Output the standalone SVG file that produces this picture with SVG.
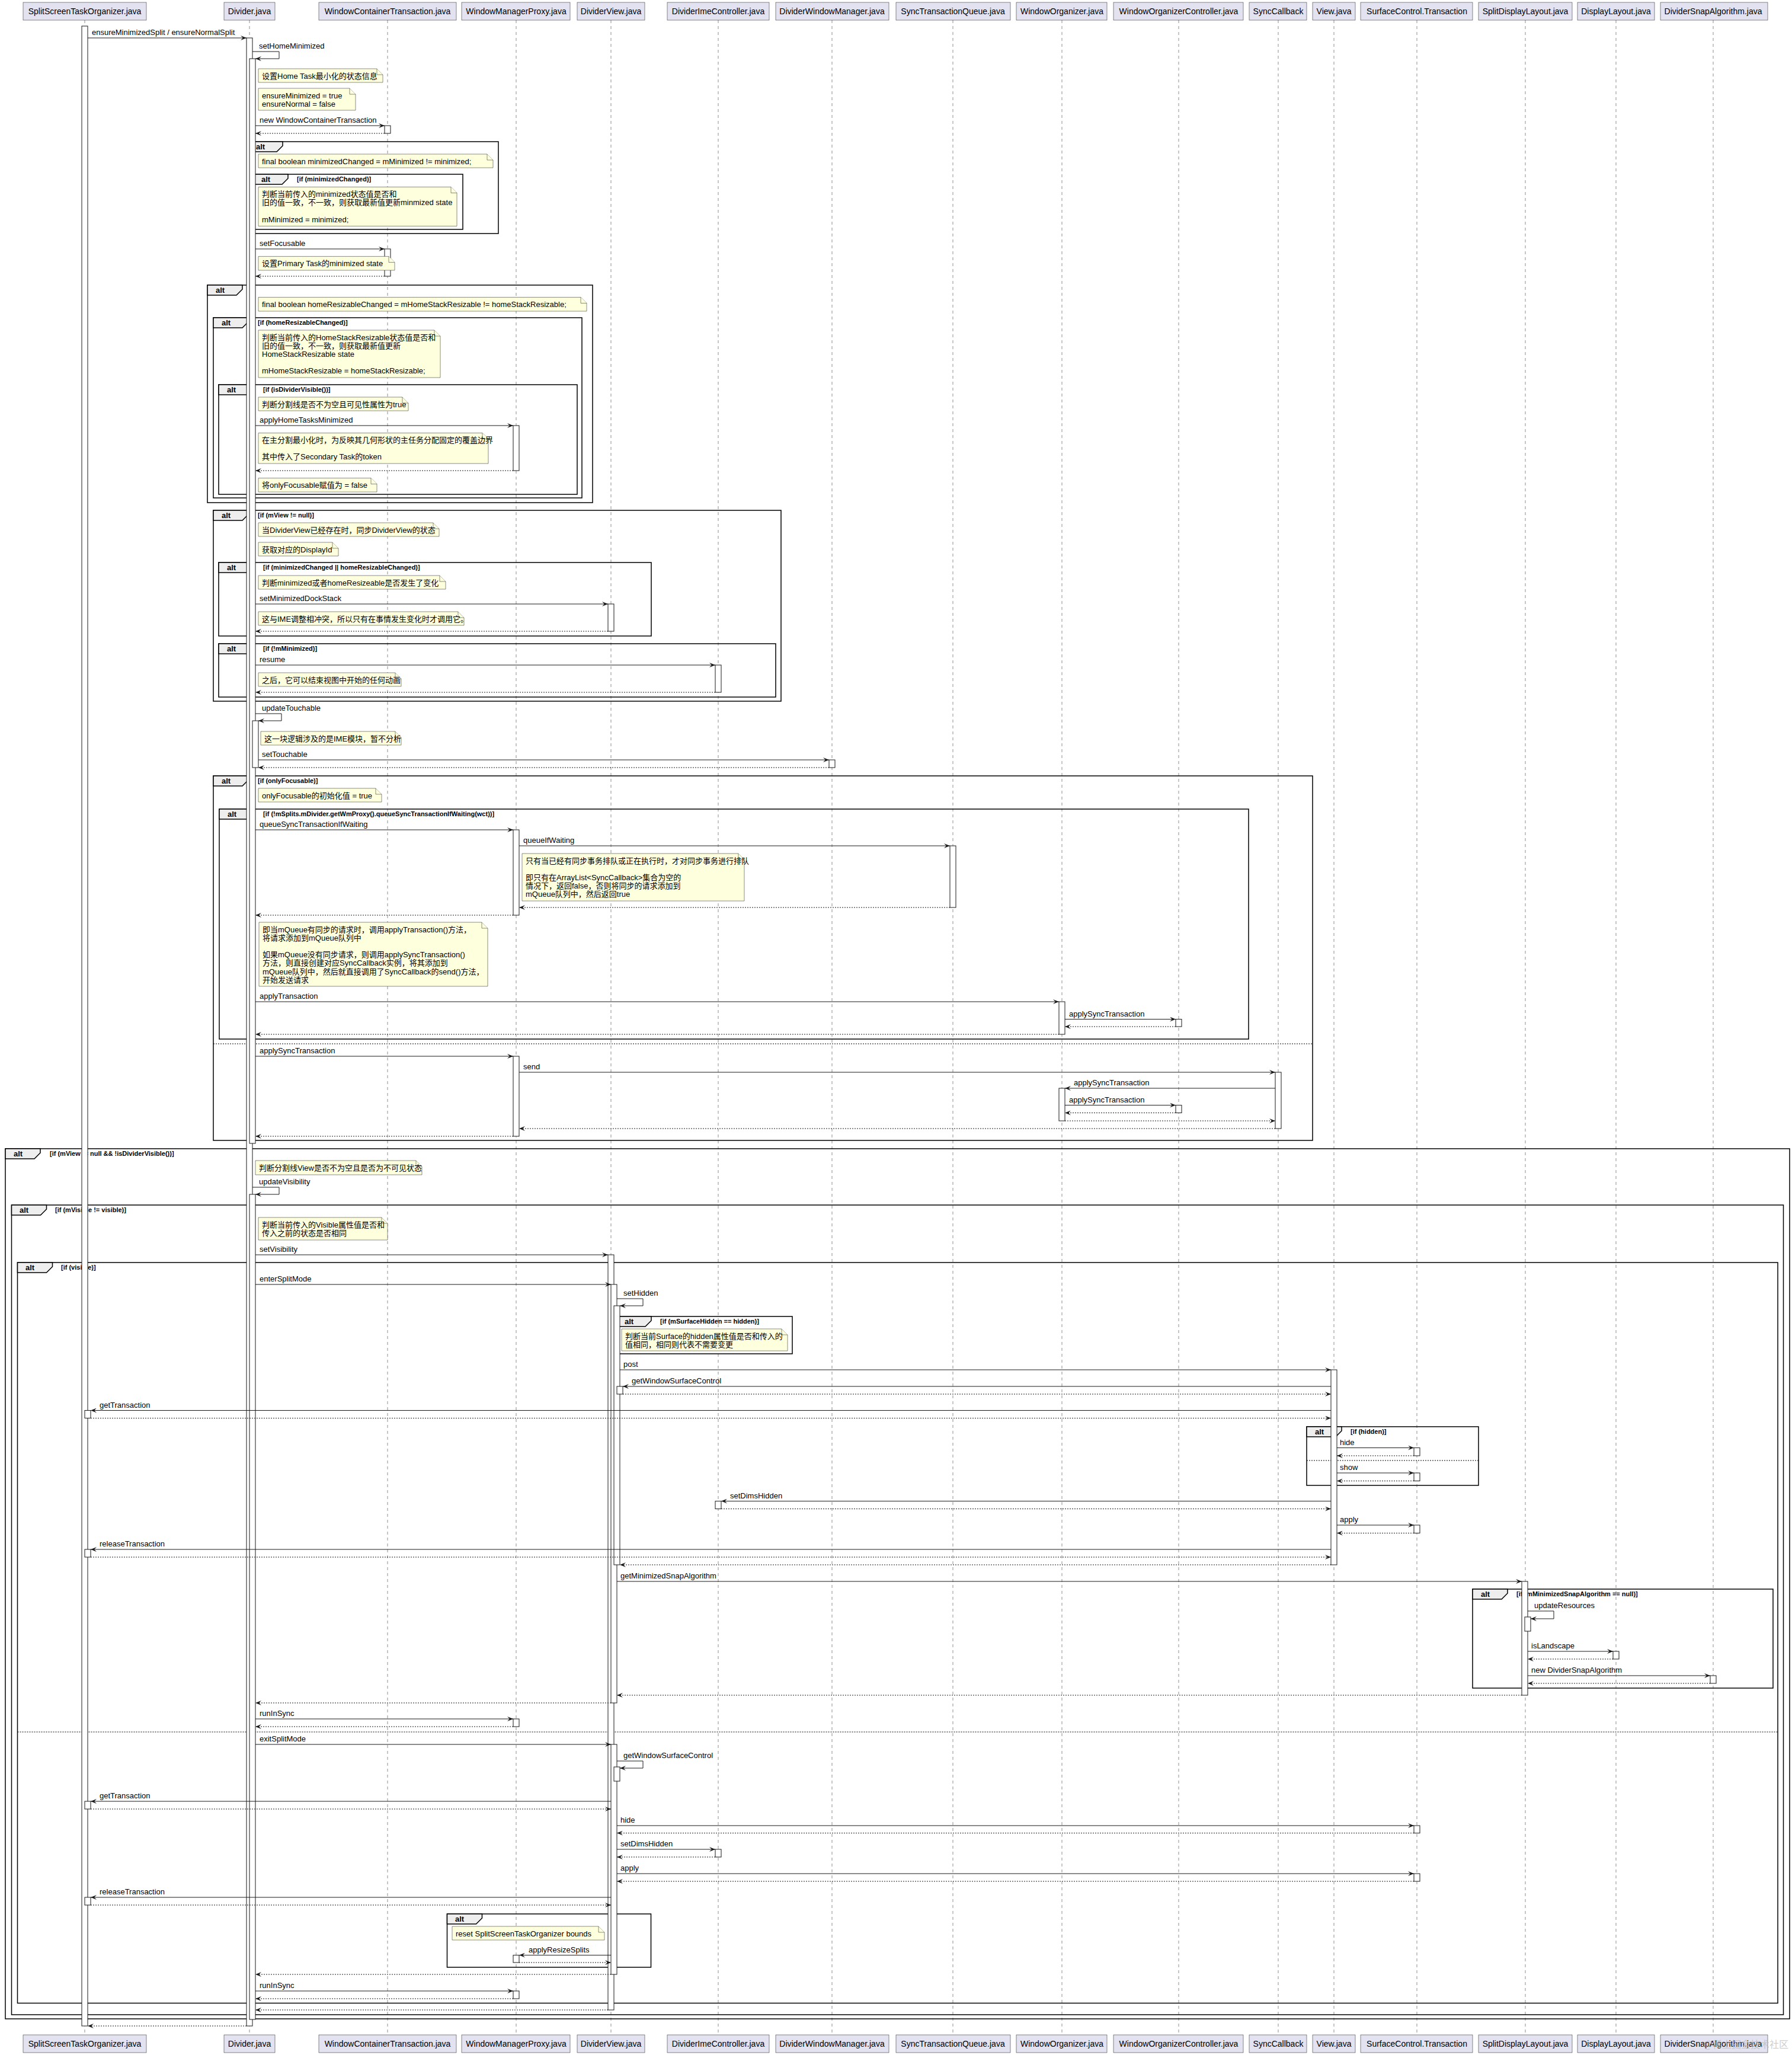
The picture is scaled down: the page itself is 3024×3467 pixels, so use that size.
<svg xmlns="http://www.w3.org/2000/svg" width="3024" height="3467" viewBox="0 0 3024 3467">
<style>
.pb{fill:#E2E2F0;stroke:#181818;stroke-width:0.5}
.pt{font-family:"Liberation Sans",sans-serif;font-size:14px;fill:#000;text-anchor:middle}
.ll{stroke:#181818;stroke-width:0.5;stroke-dasharray:5,5;fill:none}
.ac{fill:#fff;stroke:#181818;stroke-width:1}
.fr{fill:none;stroke:#000;stroke-width:1.5}
.tab{fill:#EEEEEE;stroke:#000;stroke-width:1.5}
.tl{font-family:"Liberation Sans",sans-serif;font-size:13px;font-weight:bold;fill:#000}
.gd{font-family:"Liberation Sans",sans-serif;font-size:11px;font-weight:bold;fill:#000}
.el{stroke:#000;stroke-width:1;stroke-dasharray:2,2;fill:none}
.nb{fill:#FEFFDD;stroke:#181818;stroke-width:0.5}
.nt{font-family:"Liberation Sans","Noto Sans CJK SC",sans-serif;font-size:13px;fill:#000}
.m{stroke:#181818;stroke-width:1;fill:none;marker-end:url(#ah)}
.r{stroke:#181818;stroke-width:1;fill:none;stroke-dasharray:2,2;marker-end:url(#ah)}
.ml{font-family:"Liberation Sans",sans-serif;font-size:13px;fill:#000}
.wm{font-family:"Noto Sans CJK SC",sans-serif;font-size:16px;fill:#bbbbbb;opacity:0.7;text-anchor:end}
</style>
<defs>
<marker id="ah" markerWidth="10" markerHeight="8" refX="10" refY="4" orient="auto" markerUnits="userSpaceOnUse"><path d="M0,0 L10,4 L0,8 L4,4 Z" fill="#181818"/></marker>
</defs>
<rect x="0" y="0" width="3024" height="3467" fill="#ffffff"/>

<!-- participants -->
<g id="p-ssto"><line class="ll" x1="143" y1="34" x2="143" y2="3433"/><rect class="pb" x="39" y="4" width="208" height="30"/><text class="pt" x="143" y="24">SplitScreenTaskOrganizer.java</text><rect class="pb" x="39" y="3433" width="208" height="30"/><text class="pt" x="143" y="3453">SplitScreenTaskOrganizer.java</text></g>
<g id="p-divider"><line class="ll" x1="421" y1="34" x2="421" y2="3433"/><rect class="pb" x="378" y="4" width="86" height="30"/><text class="pt" x="421" y="24">Divider.java</text><rect class="pb" x="378" y="3433" width="86" height="30"/><text class="pt" x="421" y="3453">Divider.java</text></g>
<g id="p-wct"><line class="ll" x1="654" y1="34" x2="654" y2="3433"/><rect class="pb" x="538" y="4" width="232" height="30"/><text class="pt" x="654" y="24">WindowContainerTransaction.java</text><rect class="pb" x="538" y="3433" width="232" height="30"/><text class="pt" x="654" y="3453">WindowContainerTransaction.java</text></g>
<g id="p-wmp"><line class="ll" x1="871" y1="34" x2="871" y2="3433"/><rect class="pb" x="779" y="4" width="183" height="30"/><text class="pt" x="871" y="24">WindowManagerProxy.java</text><rect class="pb" x="779" y="3433" width="183" height="30"/><text class="pt" x="871" y="3453">WindowManagerProxy.java</text></g>
<g id="p-dividerview"><line class="ll" x1="1031" y1="34" x2="1031" y2="3433"/><rect class="pb" x="974" y="4" width="114" height="30"/><text class="pt" x="1031" y="24">DividerView.java</text><rect class="pb" x="974" y="3433" width="114" height="30"/><text class="pt" x="1031" y="3453">DividerView.java</text></g>
<g id="p-dic"><line class="ll" x1="1212" y1="34" x2="1212" y2="3433"/><rect class="pb" x="1126" y="4" width="172" height="30"/><text class="pt" x="1212" y="24">DividerImeController.java</text><rect class="pb" x="1126" y="3433" width="172" height="30"/><text class="pt" x="1212" y="3453">DividerImeController.java</text></g>
<g id="p-dwm"><line class="ll" x1="1404" y1="34" x2="1404" y2="3433"/><rect class="pb" x="1309" y="4" width="191" height="30"/><text class="pt" x="1404" y="24">DividerWindowManager.java</text><rect class="pb" x="1309" y="3433" width="191" height="30"/><text class="pt" x="1404" y="3453">DividerWindowManager.java</text></g>
<g id="p-stq"><line class="ll" x1="1608" y1="34" x2="1608" y2="3433"/><rect class="pb" x="1512" y="4" width="193" height="30"/><text class="pt" x="1608" y="24">SyncTransactionQueue.java</text><rect class="pb" x="1512" y="3433" width="193" height="30"/><text class="pt" x="1608" y="3453">SyncTransactionQueue.java</text></g>
<g id="p-wo"><line class="ll" x1="1792" y1="34" x2="1792" y2="3433"/><rect class="pb" x="1715" y="4" width="153" height="30"/><text class="pt" x="1792" y="24">WindowOrganizer.java</text><rect class="pb" x="1715" y="3433" width="153" height="30"/><text class="pt" x="1792" y="3453">WindowOrganizer.java</text></g>
<g id="p-woc"><line class="ll" x1="1989" y1="34" x2="1989" y2="3433"/><rect class="pb" x="1879" y="4" width="219" height="30"/><text class="pt" x="1989" y="24">WindowOrganizerController.java</text><rect class="pb" x="1879" y="3433" width="219" height="30"/><text class="pt" x="1989" y="3453">WindowOrganizerController.java</text></g>
<g id="p-synccallback"><line class="ll" x1="2157" y1="34" x2="2157" y2="3433"/><rect class="pb" x="2108" y="4" width="97" height="30"/><text class="pt" x="2157" y="24">SyncCallback</text><rect class="pb" x="2108" y="3433" width="97" height="30"/><text class="pt" x="2157" y="3453">SyncCallback</text></g>
<g id="p-view"><line class="ll" x1="2251" y1="34" x2="2251" y2="3433"/><rect class="pb" x="2215" y="4" width="72" height="30"/><text class="pt" x="2251" y="24">View.java</text><rect class="pb" x="2215" y="3433" width="72" height="30"/><text class="pt" x="2251" y="3453">View.java</text></g>
<g id="p-sct"><line class="ll" x1="2391" y1="34" x2="2391" y2="3433"/><rect class="pb" x="2296" y="4" width="189" height="30"/><text class="pt" x="2391" y="24">SurfaceControl.Transaction</text><rect class="pb" x="2296" y="3433" width="189" height="30"/><text class="pt" x="2391" y="3453">SurfaceControl.Transaction</text></g>
<g id="p-sdl"><line class="ll" x1="2574" y1="34" x2="2574" y2="3433"/><rect class="pb" x="2495" y="4" width="158" height="30"/><text class="pt" x="2574" y="24">SplitDisplayLayout.java</text><rect class="pb" x="2495" y="3433" width="158" height="30"/><text class="pt" x="2574" y="3453">SplitDisplayLayout.java</text></g>
<g id="p-dl"><line class="ll" x1="2727" y1="34" x2="2727" y2="3433"/><rect class="pb" x="2662" y="4" width="130" height="30"/><text class="pt" x="2727" y="24">DisplayLayout.java</text><rect class="pb" x="2662" y="3433" width="130" height="30"/><text class="pt" x="2727" y="3453">DisplayLayout.java</text></g>
<g id="p-dsa"><line class="ll" x1="2891" y1="34" x2="2891" y2="3433"/><rect class="pb" x="2802" y="4" width="181" height="30"/><text class="pt" x="2891" y="24">DividerSnapAlgorithm.java</text><rect class="pb" x="2802" y="3433" width="181" height="30"/><text class="pt" x="2891" y="3453">DividerSnapAlgorithm.java</text></g>

<!-- frames -->
<g id="frames">
<g id="f1"><rect class="fr" x="418" y="239" width="423" height="155"/><path class="tab" d="M418,239 H477 V246 L467,256 H418 Z"/><text class="tl" x="432" y="252">alt</text></g>
<g id="f2"><rect class="fr" x="427" y="294" width="354" height="93"/><path class="tab" d="M427,294 H486 V301 L476,311 H427 Z"/><text class="tl" x="441" y="307">alt</text><text class="gd" x="501" y="306">[if (minimizedChanged)]</text></g>
<g id="f3"><rect class="fr" x="350" y="481" width="650" height="367"/><path class="tab" d="M350,481 H409 V488 L399,498 H350 Z"/><text class="tl" x="364" y="494">alt</text></g>
<g id="f4"><rect class="fr" x="360" y="536" width="622" height="304"/><path class="tab" d="M360,536 H419 V543 L409,553 H360 Z"/><text class="tl" x="374" y="549">alt</text><text class="gd" x="435" y="548">[if (homeResizableChanged)]</text></g>
<g id="f5"><rect class="fr" x="369" y="649" width="605" height="185"/><path class="tab" d="M369,649 H428 V656 L418,666 H369 Z"/><text class="tl" x="383" y="662">alt</text><text class="gd" x="444" y="661">[if (isDividerVisible())]</text></g>
<g id="f6"><rect class="fr" x="360" y="861" width="958" height="322"/><path class="tab" d="M360,861 H419 V868 L409,878 H360 Z"/><text class="tl" x="374" y="874">alt</text><text class="gd" x="435" y="873">[if (mView != null)]</text></g>
<g id="f7"><rect class="fr" x="369" y="949" width="730" height="124"/><path class="tab" d="M369,949 H428 V956 L418,966 H369 Z"/><text class="tl" x="383" y="962">alt</text><text class="gd" x="444" y="961">[if (minimizedChanged || homeResizableChanged)]</text></g>
<g id="f8"><rect class="fr" x="369" y="1086" width="940" height="90"/><path class="tab" d="M369,1086 H428 V1093 L418,1103 H369 Z"/><text class="tl" x="383" y="1099">alt</text><text class="gd" x="444" y="1098">[if (!mMinimized)]</text></g>
<g id="f9"><rect class="fr" x="360" y="1309" width="1855" height="615"/><path class="tab" d="M360,1309 H419 V1316 L409,1326 H360 Z"/><text class="tl" x="374" y="1322">alt</text><text class="gd" x="435" y="1321">[if (onlyFocusable)]</text><line class="el" x1="360" y1="1761" x2="2215" y2="1761"/></g>
<g id="f10"><rect class="fr" x="370" y="1365" width="1737" height="388"/><path class="tab" d="M370,1365 H429 V1372 L419,1382 H370 Z"/><text class="tl" x="384" y="1378">alt</text><text class="gd" x="444" y="1377">[if (!mSplits.mDivider.getWmProxy().queueSyncTransactionIfWaiting(wct))]</text></g>
<g id="f11"><rect class="fr" x="9" y="1938" width="3011" height="1468"/><path class="tab" d="M9,1938 H68 V1945 L58,1955 H9 Z"/><text class="tl" x="23" y="1951">alt</text><text class="gd" x="84" y="1950">[if (mView != null &amp;&amp; !isDividerVisible())]</text></g>
<g id="f12"><rect class="fr" x="19.5" y="2033" width="2990" height="1366"/><path class="tab" d="M19.5,2033 H78.5 V2040 L68.5,2050 H19.5 Z"/><text class="tl" x="33" y="2046">alt</text><text class="gd" x="93" y="2045">[if (mVisible != visible)]</text></g>
<g id="f13"><rect class="fr" x="29.5" y="2130" width="2970.5" height="1249.5"/><path class="tab" d="M29.5,2130 H88.5 V2137 L78.5,2147 H29.5 Z"/><text class="tl" x="43" y="2143">alt</text><text class="gd" x="103" y="2142">[if (visible)]</text><line class="el" x1="29.5" y1="2922" x2="3000" y2="2922"/></g>
<g id="f14"><rect class="fr" x="1040" y="2221" width="297" height="63"/><path class="tab" d="M1040,2221 H1099 V2228 L1089,2238 H1040 Z"/><text class="tl" x="1054" y="2234">alt</text><text class="gd" x="1114" y="2233">[if (mSurfaceHidden == hidden)]</text></g>
<g id="f15"><rect class="fr" x="2205" y="2407" width="290" height="99"/><path class="tab" d="M2205,2407 H2264 V2414 L2254,2424 H2205 Z"/><text class="tl" x="2219" y="2420">alt</text><text class="gd" x="2279" y="2419">[if (hidden)]</text><line class="el" x1="2205" y1="2464" x2="2495" y2="2464"/></g>
<g id="f16"><rect class="fr" x="2485" y="2681" width="507" height="167"/><path class="tab" d="M2485,2681 H2544 V2688 L2534,2698 H2485 Z"/><text class="tl" x="2499" y="2694">alt</text><text class="gd" x="2559" y="2693">[if (mMinimizedSnapAlgorithm == null)]</text></g>
<g id="f17"><rect class="fr" x="754.5" y="3229" width="344" height="90"/><path class="tab" d="M754.5,3229 H813.5 V3236 L803.5,3246 H754.5 Z"/><text class="tl" x="768" y="3242">alt</text></g>
</g>

<!-- activations -->
<g id="activations">
<rect class="ac" x="138" y="44" width="10" height="3374"/>
<rect class="ac" x="143" y="2379.5" width="10" height="13"/>
<rect class="ac" x="143" y="2614" width="10" height="13"/>
<rect class="ac" x="143" y="3039" width="10" height="13"/>
<rect class="ac" x="143" y="3201" width="10" height="13"/>
<rect class="ac" x="416" y="64" width="10" height="3354"/>
<rect class="ac" x="421" y="99" width="10" height="1830"/>
<rect class="ac" x="426" y="1216" width="10" height="79"/>
<rect class="ac" x="421" y="2015" width="10" height="1392"/>
<rect class="ac" x="649" y="212" width="10" height="13"/>
<rect class="ac" x="649" y="420" width="10" height="46"/>
<rect class="ac" x="866" y="718" width="10" height="76"/>
<rect class="ac" x="866" y="1400" width="10" height="144"/>
<rect class="ac" x="866" y="1782" width="10" height="135"/>
<rect class="ac" x="866" y="2900" width="10" height="13"/>
<rect class="ac" x="866" y="3298.6" width="10" height="12.4"/>
<rect class="ac" x="866" y="3359" width="10" height="13"/>
<rect class="ac" x="1026" y="1019" width="10" height="46"/>
<rect class="ac" x="1026" y="2117" width="10" height="1274"/>
<rect class="ac" x="1031" y="2167" width="10" height="706"/>
<rect class="ac" x="1036" y="2203" width="10" height="437"/>
<rect class="ac" x="1041" y="2339" width="10" height="13"/>
<rect class="ac" x="1031" y="2943" width="10" height="388"/>
<rect class="ac" x="1036" y="2981" width="10" height="24"/>
<rect class="ac" x="1207" y="1122" width="10" height="46"/>
<rect class="ac" x="1207" y="2532.6" width="10" height="13"/>
<rect class="ac" x="1207" y="3120" width="10" height="13"/>
<rect class="ac" x="1399" y="1282" width="10" height="13"/>
<rect class="ac" x="1603" y="1427" width="10" height="104"/>
<rect class="ac" x="1787" y="1690" width="10" height="55"/>
<rect class="ac" x="1787" y="1836" width="10" height="55"/>
<rect class="ac" x="1984" y="1719.5" width="10" height="12.5"/>
<rect class="ac" x="1984" y="1864.6" width="10" height="12.9"/>
<rect class="ac" x="2152" y="1809" width="10" height="95"/>
<rect class="ac" x="2246" y="2311" width="10" height="329"/>
<rect class="ac" x="2386" y="2442.6" width="10" height="13.4"/>
<rect class="ac" x="2386" y="2485" width="10" height="13.5"/>
<rect class="ac" x="2386" y="2573" width="10" height="13.5"/>
<rect class="ac" x="2386" y="3080" width="10" height="12.6"/>
<rect class="ac" x="2386" y="3161" width="10" height="13"/>
<rect class="ac" x="2568" y="2668" width="10" height="192"/>
<rect class="ac" x="2573" y="2728" width="10" height="24"/>
<rect class="ac" x="2722" y="2786" width="10" height="13"/>
<rect class="ac" x="2886" y="2827" width="10" height="13"/>
</g>

<!-- notes -->
<g id="n1"><path class="nb" d="M436,116 H636 L646,126 V139 H436 Z"/><path class="nb" d="M636,116 V126 H646"/><text class="nt" x="442" y="132.5">设置Home Task最小化的状态信息</text></g>
<g id="n2"><path class="nb" d="M436,149 H590 L600,159 V186 H436 Z"/><path class="nb" d="M590,149 V159 H600"/><text class="nt"><tspan x="442" y="165.5">ensureMinimized = true</tspan><tspan x="442" y="179.7">ensureNormal = false</tspan></text></g>
<g id="n3"><path class="nb" d="M436,260 H822 L832,270 V283 H436 Z"/><path class="nb" d="M822,260 V270 H832"/><text class="nt" x="442" y="276.5">final boolean minimizedChanged = mMinimized != minimized;</text></g>
<g id="n4"><path class="nb" d="M436,315.5 H761 L771,325.5 V381.5 H436 Z"/><path class="nb" d="M761,315.5 V325.5 H771"/><text class="nt"><tspan x="442" y="332">判断当前传入的minimized状态值是否和</tspan><tspan x="442" y="346.2">旧的值一致，不一致，则获取最新值更新minmized state</tspan><tspan x="442" y="374.6">mMinimized = minimized;</tspan></text></g>
<g id="n5"><path class="nb" d="M436,432.6 H656 L666,442.6 V456 H436 Z"/><path class="nb" d="M656,432.6 V442.6 H666"/><text class="nt" x="442" y="449">设置Primary Task的minimized state</text></g>
<g id="n6"><path class="nb" d="M436,501.5 H980 L990,511.5 V525 H436 Z"/><path class="nb" d="M980,501.5 V511.5 H990"/><text class="nt" x="442" y="518">final boolean homeResizableChanged = mHomeStackResizable != homeStackResizable;</text></g>
<g id="n7"><path class="nb" d="M436,557 H733 L743,567 V637 H436 Z"/><path class="nb" d="M733,557 V567 H743"/><text class="nt"><tspan x="442" y="573.5">判断当前传入的HomeStackResizable状态值是否和</tspan><tspan x="442" y="587.7">旧的值一致，不一致，则获取最新值更新</tspan><tspan x="442" y="601.9">HomeStackResizable state</tspan><tspan x="442" y="630.3">mHomeStackResizable = homeStackResizable;</tspan></text></g>
<g id="n8"><path class="nb" d="M436,670 H679 L689,680 V693 H436 Z"/><path class="nb" d="M679,670 V680 H689"/><text class="nt" x="442" y="686.5">判断分割线是否不为空且可见性属性为true</text></g>
<g id="n9"><path class="nb" d="M436,730.5 H814 L824,740.5 V782 H436 Z"/><path class="nb" d="M814,730.5 V740.5 H824"/><text class="nt"><tspan x="442" y="747">在主分割最小化时，为反映其几何形状的主任务分配固定的覆盖边界</tspan><tspan x="442" y="775.4">其中传入了Secondary Task的token</tspan></text></g>
<g id="n10"><path class="nb" d="M436,806.6 H626 L636,816.6 V830 H436 Z"/><path class="nb" d="M626,806.6 V816.6 H636"/><text class="nt" x="442" y="823">将onlyFocusable赋值为 = false</text></g>
<g id="n11"><path class="nb" d="M436,882 H731 L741,892 V905 H436 Z"/><path class="nb" d="M731,882 V892 H741"/><text class="nt" x="442" y="898.5">当DividerView已经存在时，同步DividerView的状态</text></g>
<g id="n12"><path class="nb" d="M436,915 H561 L571,925 V938 H436 Z"/><path class="nb" d="M561,915 V925 H571"/><text class="nt" x="442" y="931.5">获取对应的DisplayId</text></g>
<g id="n13"><path class="nb" d="M436,971 H742 L752,981 V994 H436 Z"/><path class="nb" d="M742,971 V981 H752"/><text class="nt" x="442" y="987.5">判断minimized或者homeResizeable是否发生了变化</text></g>
<g id="n14"><path class="nb" d="M436,1032 H773 L783,1042 V1055 H436 Z"/><path class="nb" d="M773,1032 V1042 H783"/><text class="nt" x="442" y="1048.5">这与IME调整相冲突，所以只有在事情发生变化时才调用它。</text></g>
<g id="n15"><path class="nb" d="M436,1135 H667 L677,1145 V1158 H436 Z"/><path class="nb" d="M667,1135 V1145 H677"/><text class="nt" x="442" y="1151.5">之后，它可以结束视图中开始的任何动画</text></g>
<g id="n16"><path class="nb" d="M440,1234 H667 L677,1244 V1257 H440 Z"/><path class="nb" d="M667,1234 V1244 H677"/><text class="nt" x="446" y="1250.5">这一块逻辑涉及的是IME模块，暂不分析</text></g>
<g id="n17"><path class="nb" d="M436,1330 H634 L644,1340 V1353 H436 Z"/><path class="nb" d="M634,1330 V1340 H644"/><text class="nt" x="442" y="1346.5">onlyFocusable的初始化值 = true</text></g>
<g id="n18"><path class="nb" d="M881,1440 H1246 L1256,1450 V1520 H881 Z"/><path class="nb" d="M1246,1440 V1450 H1256"/><text class="nt"><tspan x="887" y="1456.5">只有当已经有同步事务排队或正在执行时，才对同步事务进行排队</tspan><tspan x="887" y="1484.9">即只有在ArrayList&lt;SyncCallback&gt;集合为空的</tspan><tspan x="887" y="1499.1">情况下，返回false，否则将同步的请求添加到</tspan><tspan x="887" y="1513.3">mQueue队列中，然后返回true</tspan></text></g>
<g id="n19"><path class="nb" d="M437,1556 H813 L823,1566 V1664 H437 Z"/><path class="nb" d="M813,1556 V1566 H823"/><text class="nt"><tspan x="443" y="1572.5">即当mQueue有同步的请求时，调用applyTransaction()方法，</tspan><tspan x="443" y="1586.7">将请求添加到mQueue队列中</tspan><tspan x="443" y="1615.1">如果mQueue没有同步请求，则调用applySyncTransaction()</tspan><tspan x="443" y="1629.3">方法，则直接创建对应SyncCallback实例，将其添加到</tspan><tspan x="443" y="1643.5">mQueue队列中，然后就直接调用了SyncCallback的send()方法，</tspan><tspan x="443" y="1657.7">开始发送请求</tspan></text></g>
<g id="n20"><path class="nb" d="M431,1958 H702 L712,1968 V1982 H431 Z"/><path class="nb" d="M702,1958 V1968 H712"/><text class="nt" x="437" y="1974.5">判断分割线View是否不为空且是否为不可见状态</text></g>
<g id="n21"><path class="nb" d="M436,2054 H644 L654,2064 V2092 H436 Z"/><path class="nb" d="M644,2054 V2064 H654"/><text class="nt"><tspan x="442" y="2070.5">判断当前传入的Visible属性值是否和</tspan><tspan x="442" y="2084.7">传入之前的状态是否相同</tspan></text></g>
<g id="n22"><path class="nb" d="M1049,2242 H1319 L1329,2252 V2279 H1049 Z"/><path class="nb" d="M1319,2242 V2252 H1329"/><text class="nt"><tspan x="1055" y="2258.5">判断当前Surface的hidden属性值是否和传入的</tspan><tspan x="1055" y="2272.7">值相同，相同则代表不需要变更</tspan></text></g>
<g id="n23"><path class="nb" d="M763,3250 H1010 L1020,3260 V3273 H763 Z"/><path class="nb" d="M1010,3250 V3260 H1020"/><text class="nt" x="769" y="3266.5">reset SplitScreenTaskOrganizer bounds</text></g>

<!-- connectors -->
<g id="connectors">
<line class="m" x1="148" y1="64" x2="416" y2="64"/><text class="ml" x="155" y="59">ensureMinimizedSplit / ensureNormalSplit</text>
<path class="m" d="M426,87 H471 V99 H431"/><text class="ml" x="437" y="82">setHomeMinimized</text>
<line class="m" x1="431" y1="212" x2="649" y2="212"/><text class="ml" x="438" y="207">new WindowContainerTransaction</text>
<line class="r" x1="649" y1="225" x2="431" y2="225"/>
<line class="m" x1="431" y1="420" x2="649" y2="420"/><text class="ml" x="438" y="415">setFocusable</text>
<line class="r" x1="649" y1="466" x2="431" y2="466"/>
<line class="m" x1="431" y1="718" x2="866" y2="718"/><text class="ml" x="438" y="713">applyHomeTasksMinimized</text>
<line class="r" x1="866" y1="794" x2="431" y2="794"/>
<line class="m" x1="431" y1="1019" x2="1026" y2="1019"/><text class="ml" x="438" y="1014">setMinimizedDockStack</text>
<line class="r" x1="1026" y1="1065" x2="431" y2="1065"/>
<line class="m" x1="431" y1="1122" x2="1207" y2="1122"/><text class="ml" x="438" y="1117">resume</text>
<line class="r" x1="1207" y1="1168" x2="431" y2="1168"/>
<path class="m" d="M431,1204 H475 V1216 H436"/><text class="ml" x="442" y="1199">updateTouchable</text>
<line class="m" x1="436" y1="1282" x2="1399" y2="1282"/><text class="ml" x="442" y="1277">setTouchable</text>
<line class="r" x1="1399" y1="1295" x2="436" y2="1295"/>
<line class="m" x1="431" y1="1400" x2="866" y2="1400"/><text class="ml" x="438" y="1395">queueSyncTransactionIfWaiting</text>
<line class="m" x1="876" y1="1427" x2="1603" y2="1427"/><text class="ml" x="883" y="1422">queueIfWaiting</text>
<line class="r" x1="1603" y1="1531" x2="876" y2="1531"/>
<line class="r" x1="866" y1="1544" x2="431" y2="1544"/>
<line class="m" x1="431" y1="1690" x2="1787" y2="1690"/><text class="ml" x="438" y="1685">applyTransaction</text>
<line class="m" x1="1797" y1="1719.5" x2="1984" y2="1719.5"/><text class="ml" x="1804" y="1714.5">applySyncTransaction</text>
<line class="r" x1="1984" y1="1732" x2="1797" y2="1732"/>
<line class="r" x1="1787" y1="1745" x2="431" y2="1745"/>
<line class="m" x1="431" y1="1782" x2="866" y2="1782"/><text class="ml" x="438" y="1777">applySyncTransaction</text>
<line class="m" x1="876" y1="1809" x2="2152" y2="1809"/><text class="ml" x="883" y="1804">send</text>
<line class="m" x1="2152" y1="1836" x2="1797" y2="1836"/><text class="ml" x="1812" y="1831">applySyncTransaction</text>
<line class="m" x1="1797" y1="1864.6" x2="1984" y2="1864.6"/><text class="ml" x="1804" y="1859.6">applySyncTransaction</text>
<line class="r" x1="1984" y1="1877.5" x2="1797" y2="1877.5"/>
<line class="r" x1="1797" y1="1891" x2="2152" y2="1891"/>
<line class="r" x1="2152" y1="1904" x2="876" y2="1904"/>
<line class="r" x1="866" y1="1917" x2="431" y2="1917"/>
<path class="m" d="M426,2003 H471 V2015 H431"/><text class="ml" x="437" y="1998">updateVisibility</text>
<line class="m" x1="431" y1="2117" x2="1026" y2="2117"/><text class="ml" x="438" y="2112">setVisibility</text>
<line class="m" x1="431" y1="2167" x2="1031" y2="2167"/><text class="ml" x="438" y="2162">enterSplitMode</text>
<path class="m" d="M1041,2191 H1085 V2203 H1046"/><text class="ml" x="1052" y="2186">setHidden</text>
<line class="m" x1="1046" y1="2311" x2="2246" y2="2311"/><text class="ml" x="1052" y="2306">post</text>
<line class="m" x1="2246" y1="2339" x2="1051" y2="2339"/><text class="ml" x="1066" y="2334">getWindowSurfaceControl</text>
<line class="r" x1="1051" y1="2352" x2="2246" y2="2352"/>
<line class="m" x1="2246" y1="2379.5" x2="153" y2="2379.5"/><text class="ml" x="168" y="2374.5">getTransaction</text>
<line class="r" x1="153" y1="2392.6" x2="2246" y2="2392.6"/>
<line class="m" x1="2256" y1="2442.6" x2="2386" y2="2442.6"/><text class="ml" x="2261" y="2437.6">hide</text>
<line class="r" x1="2386" y1="2456" x2="2256" y2="2456"/>
<line class="m" x1="2256" y1="2485" x2="2386" y2="2485"/><text class="ml" x="2261" y="2480">show</text>
<line class="r" x1="2386" y1="2498.5" x2="2256" y2="2498.5"/>
<line class="m" x1="2246" y1="2532.6" x2="1217" y2="2532.6"/><text class="ml" x="1232" y="2527.6">setDimsHidden</text>
<line class="r" x1="1217" y1="2545.6" x2="2246" y2="2545.6"/>
<line class="m" x1="2256" y1="2573" x2="2386" y2="2573"/><text class="ml" x="2261" y="2568">apply</text>
<line class="r" x1="2386" y1="2586.5" x2="2256" y2="2586.5"/>
<line class="m" x1="2246" y1="2614" x2="153" y2="2614"/><text class="ml" x="168" y="2609">releaseTransaction</text>
<line class="r" x1="153" y1="2627" x2="2246" y2="2627"/>
<line class="r" x1="2246" y1="2640" x2="1046" y2="2640"/>
<line class="m" x1="1041" y1="2668" x2="2568" y2="2668"/><text class="ml" x="1047" y="2663">getMinimizedSnapAlgorithm</text>
<path class="m" d="M2578,2718 H2622 V2731 H2583"/><text class="ml" x="2589" y="2713">updateResources</text>
<line class="m" x1="2578" y1="2786" x2="2722" y2="2786"/><text class="ml" x="2584" y="2781">isLandscape</text>
<line class="r" x1="2722" y1="2799" x2="2578" y2="2799"/>
<line class="m" x1="2578" y1="2827" x2="2886" y2="2827"/><text class="ml" x="2584" y="2822">new DividerSnapAlgorithm</text>
<line class="r" x1="2886" y1="2840" x2="2578" y2="2840"/>
<line class="r" x1="2568" y1="2860" x2="1041" y2="2860"/>
<line class="r" x1="1031" y1="2873" x2="431" y2="2873"/>
<line class="m" x1="431" y1="2900" x2="866" y2="2900"/><text class="ml" x="438" y="2895">runInSync</text>
<line class="r" x1="866" y1="2913" x2="431" y2="2913"/>
<line class="m" x1="431" y1="2943" x2="1031" y2="2943"/><text class="ml" x="438" y="2938">exitSplitMode</text>
<path class="m" d="M1041,2971 H1085 V2983 H1046"/><text class="ml" x="1052" y="2966">getWindowSurfaceControl</text>
<line class="m" x1="1031" y1="3039" x2="153" y2="3039"/><text class="ml" x="168" y="3034">getTransaction</text>
<line class="r" x1="153" y1="3052" x2="1031" y2="3052"/>
<line class="m" x1="1041" y1="3080" x2="2386" y2="3080"/><text class="ml" x="1047" y="3075">hide</text>
<line class="r" x1="2386" y1="3092.6" x2="1041" y2="3092.6"/>
<line class="m" x1="1041" y1="3120" x2="1207" y2="3120"/><text class="ml" x="1047" y="3115">setDimsHidden</text>
<line class="r" x1="1207" y1="3133" x2="1041" y2="3133"/>
<line class="m" x1="1041" y1="3161" x2="2386" y2="3161"/><text class="ml" x="1047" y="3156">apply</text>
<line class="r" x1="2386" y1="3174" x2="1041" y2="3174"/>
<line class="m" x1="1031" y1="3201" x2="153" y2="3201"/><text class="ml" x="168" y="3196">releaseTransaction</text>
<line class="r" x1="153" y1="3214" x2="1031" y2="3214"/>
<line class="m" x1="1031" y1="3298.6" x2="876" y2="3298.6"/><text class="ml" x="892" y="3293.6">applyResizeSplits</text>
<line class="r" x1="876" y1="3311" x2="1031" y2="3311"/>
<line class="r" x1="1031" y1="3331" x2="431" y2="3331"/>
<line class="m" x1="431" y1="3359" x2="866" y2="3359"/><text class="ml" x="438" y="3354">runInSync</text>
<line class="r" x1="866" y1="3372" x2="431" y2="3372"/>
<line class="r" x1="1026" y1="3391" x2="431" y2="3391"/>
<line class="r" x1="416" y1="3418" x2="148" y2="3418"/>
</g>

<text class="wm" x="3018" y="3455">@稀土掘金技术社区</text>
</svg>
